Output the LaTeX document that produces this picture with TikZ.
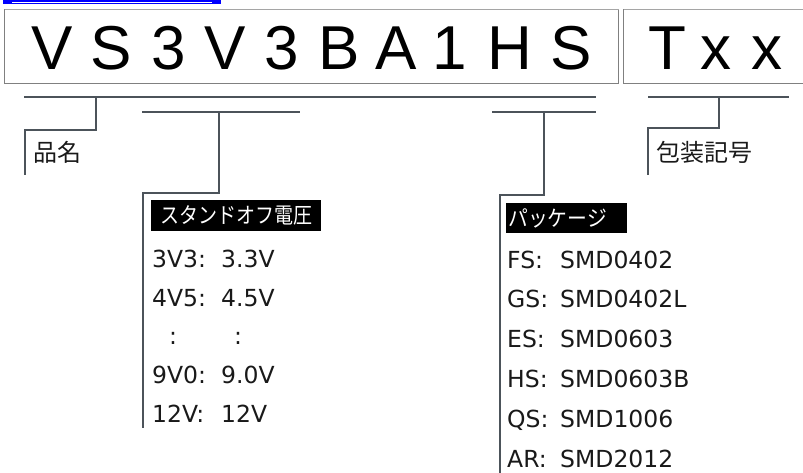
\documentclass[tikz,border=0pt]{standalone}
\usepackage{fontspec}
\newfontfamily\arialf{Liberation Sans}
\newfontfamily\verdf{DejaVu Sans}
\newfontfamily\jpf{Noto Sans CJK JP}
\definecolor{lnc}{RGB}{76,83,90}
\definecolor{boxc}{RGB}{128,128,128}
\definecolor{boxtop}{RGB}{165,165,165}
\definecolor{linkblue}{RGB}{0,0,255}
\begin{document}
\begin{tikzpicture}[x=1pt,y=-1pt,
  big/.style={font=\arialf\fontsize{62}{62}\selectfont, anchor=base, inner sep=0},
  row/.style={font=\verdf\fontsize{23.5}{23.5}\selectfont, anchor=base west, inner sep=0, text=black!90},
  jlabel/.style={font=\jpf\fontsize{24}{24}\selectfont, anchor=base west, inner sep=0, text=black!90},
  head/.style={font=\jpf\fontsize{22}{22}\selectfont, fill=black, text=white, inner sep=0},
  conn/.style={draw=lnc, line width=2.2pt},
  codebox/.style={draw=boxc, line width=1pt}]
\useasboundingbox (0,0) rectangle (803,473);
\clip (0,0) rectangle (803,473);

% blue bar at top
\fill[linkblue] (3,0) rectangle (220.5,3.8);
\draw[white, line width=0.5pt] (12,2) -- (212,2);

% code boxes
\draw[codebox] (4.5,10) rectangle (618.5,84);
\draw[boxtop, line width=1pt] (4.5,10) -- (618.5,10);
\draw[codebox] (623.5,10) rectangle (820,84);
\draw[boxtop, line width=1pt] (623.5,10) -- (820,10);

% big letters
\node[big] (c1) at (52,70) {V};
\node[big] (c2) at (111,70) {S};
\node[big] (c3) at (169,70) {3};
\node[big] (c4) at (225,70) {V};
\node[big] (c5) at (282,70) {3};
\node[big] (c6) at (339,70) {B};
\node[big] (c7) at (396,70) {A};
\node[big] (c8) at (450,70) {1};
\node[big] (c9) at (510,70) {H};
\node[big] (c10) at (571,70) {S};
\node[big] (t1) at (667,70) {T};
\node[big] (t2) at (716,70) {x};
\node[big] (t3) at (767,70) {x};

% bracket coordinates
\coordinate (aL) at (24,97);
\coordinate (aR) at (596,97);
\coordinate (aM) at (96,97);
\coordinate (aK) at (25,130);
\coordinate (aE) at (25,175);

\coordinate (bL) at (142,112);
\coordinate (bR) at (300,112);
\coordinate (bM) at (219,112);
\coordinate (bK) at (143,193);
\coordinate (bE) at (143,428);

\coordinate (cL) at (492,112);
\coordinate (cR) at (596,112);
\coordinate (cM) at (544,112);
\coordinate (cK) at (500,195);
\coordinate (cE) at (500,480);

\coordinate (dL) at (648,97);
\coordinate (dR) at (789,97);
\coordinate (dM) at (719,97);
\coordinate (dK) at (648,128);
\coordinate (dE) at (648,175);

\draw[conn] (aL) -- (aR);
\draw[conn] (aM) |- (aK) -- (aE);
\draw[conn] (bL) -- (bR);
\draw[conn] (bM) |- (bK) -- (bE);
\draw[conn] (cL) -- (cR);
\draw[conn] (cM) |- (cK) -- (cE);
\draw[conn] (dL) -- (dR);
\draw[conn] (dM) |- (dK) -- (dE);

% labels
\node[jlabel] (hinmei) at (33,162) {品名};
\node[jlabel] (housou) at (656,162) {包装記号};

% stand-off voltage
\node[head, minimum width=170, minimum height=31, anchor=north west] (sohead) at (151,200) {\scalebox{0.864}[1]{スタンドオフ電圧}};
\node[row] (s1a) at (152,267) {3V3:};
\node[row] (s1b) at (221,267) {3.3V};
\node[row] (s2a) at (152,306) {4V5:};
\node[row] (s2b) at (221,306) {4.5V};
\node[row, anchor=base] (s3a) at (173,344) {:};
\node[row, anchor=base] (s3b) at (238,344) {:};
\node[row] (s4a) at (152,383) {9V0:};
\node[row] (s4b) at (221,383) {9.0V};
\node[row] (s5a) at (152,422) {12V:};
\node[row] (s5b) at (221,422) {12V};

% package
\node[head, minimum width=119, minimum height=30, anchor=north west, text width=117, align=left, inner xsep=2] (pkhead) at (506,203) {\scalebox{0.9}[1]{パッケージ}};
\node[row] (p1a) at (507,268) {FS:};
\node[row] (p1b) at (560,268) {SMD0402};
\node[row] (p2a) at (507,307) {GS:};
\node[row] (p2b) at (560,307) {SMD0402L};
\node[row] (p3a) at (507,347) {ES:};
\node[row] (p3b) at (560,347) {SMD0603};
\node[row] (p4a) at (507,387) {HS:};
\node[row] (p4b) at (560,387) {SMD0603B};
\node[row] (p5a) at (507,427) {QS:};
\node[row] (p5b) at (560,427) {SMD1006};
\node[row] (p6a) at (507,467) {AR:};
\node[row] (p6b) at (560,467) {SMD2012};
\end{tikzpicture}
\end{document}
